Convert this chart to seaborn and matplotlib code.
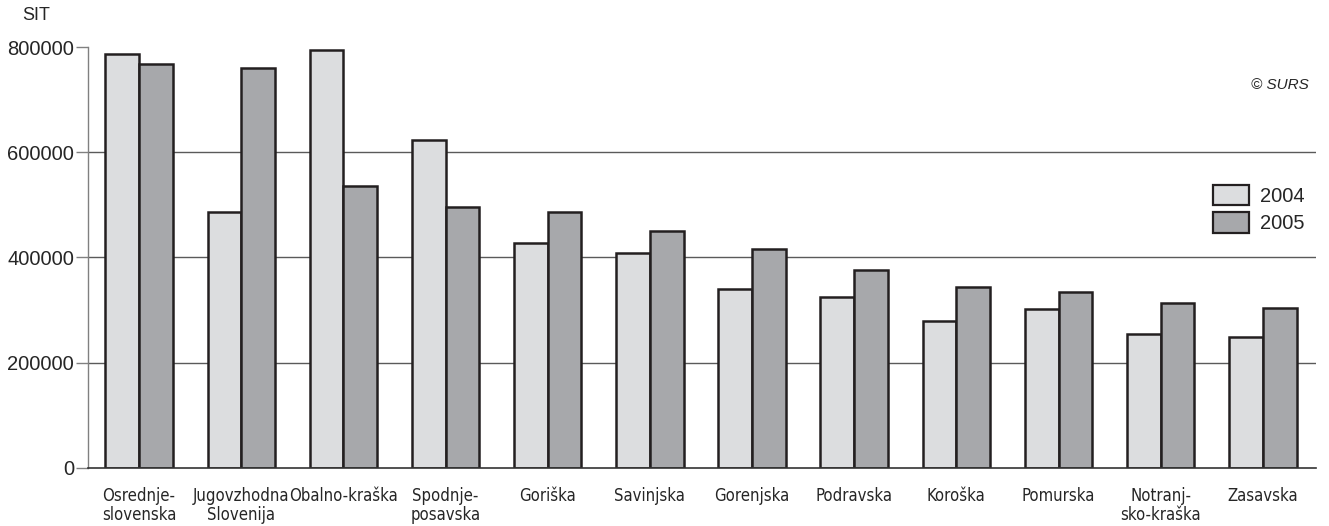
import pandas as pd
import matplotlib.pyplot as plt
import seaborn as sns

# Data (SIT)
regions = ['Osrednje-\nslovenska', 'Jugovzhodna\nSlovenija', 'Obalno-kraška', 'Spodnje-\nposavska',
           'Goriška', 'Savinjska', 'Gorenjska', 'Podravska', 'Koroška', 'Pomurska',
           'Notranj-\nsko-kraška', 'Zasavska']
values_2004 = [787000, 486000, 795000, 623000, 428000, 409000, 340000, 324000, 279000, 301000, 254000, 249000]
values_2005 = [768000, 760000, 536000, 496000, 487000, 450000, 416000, 376000, 344000, 335000, 313000, 303000]
years = ['2004', '2005']
y_ticks = [0, 200000, 400000, 600000, 800000]

df = pd.DataFrame({
    'Region': regions * 2,
    'Value': values_2004 + values_2005,
    'Year': [years[0]] * len(regions) + [years[1]] * len(regions),
})

sns.set_style('white')
plt.rcParams['font.family'] = ['Liberation Sans', 'DejaVu Sans']

fig = plt.figure(figsize=(13.29, 5.26), dpi=100)
ax = fig.add_axes([0.0662, 0.111, 0.924, 0.799])

# grid lines behind bars
for v in y_ticks[1:-1]:
    ax.axhline(v, color='#5a5a5a', linewidth=1.0, zorder=0)

sns.barplot(data=df, x='Region', y='Value', hue='Year', palette=['#dcdddf', '#a7a8ab'],
            width=0.66, gap=0, edgecolor='#231f20', linewidth=1.8, saturation=1,
            ax=ax, zorder=2)

ax.set_ylim(0, 800000)
ax.set_xlim(-0.5, len(regions) - 0.48)
ax.set_yticks(y_ticks)
ax.set_yticklabels([str(v) for v in y_ticks], fontsize=14.5)
ax.tick_params(axis='y', direction='out', length=9, width=1, color='#808080', pad=1, left=True)
ax.tick_params(axis='x', length=0, pad=14)
for lbl in ax.get_xticklabels():
    lbl.set_fontfamily(['DejaVu Sans'])
    lbl.set_fontstretch('condensed')
    lbl.set_fontsize(12)
    lbl.set_linespacing(1.05)
    lbl.set_verticalalignment('top')
ax.set_xlabel('')
ax.set_ylabel('')

sns.despine(ax=ax, top=True, right=True)
ax.spines['left'].set_color('#808080')
ax.spines['left'].set_linewidth(1)
ax.spines['bottom'].set_color('#333333')
ax.spines['bottom'].set_linewidth(1.2)

leg = ax.legend(loc='upper left', bbox_to_anchor=(0.905, 0.668), bbox_transform=fig.transFigure,
                frameon=False, fontsize=14.5, handlelength=1.8, handleheight=1.2,
                handletextpad=0.55, labelspacing=0.3, borderpad=0)
for h in leg.legend_handles:
    h.set_edgecolor('#231f20')
    h.set_linewidth(1.6)

fig.text(0.017, 0.97, 'SIT', fontsize=13, ha='left', va='center')
fig.text(0.985, 0.838, '© SURS', fontsize=11, style='italic', ha='right', va='center')

plt.savefig('out.png', dpi=100)
plt.close()
